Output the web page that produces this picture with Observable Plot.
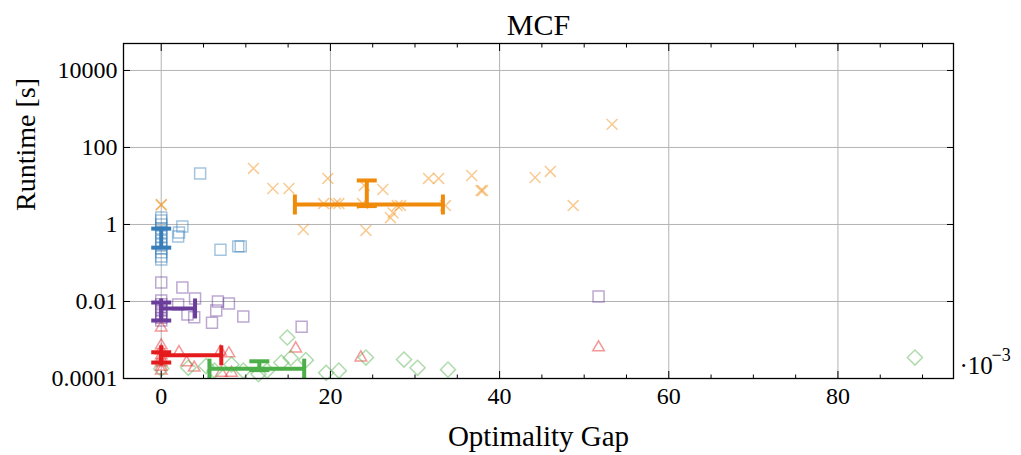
<!DOCTYPE html>
<html><head><meta charset="utf-8">
<script src="https://cdn.jsdelivr.net/npm/d3@7"></script>
<script src="https://cdn.jsdelivr.net/npm/@observablehq/plot@0.6"></script>
<style>body{margin:0;background:#fff} #chart svg{font-family:"Liberation Serif",serif;}</style>
</head><body><div id="chart"></div>
<script>
// ---- ticks ----
const xTicks = [0, 20, 40, 60, 80];
const xMinorTicks = [5, 10, 15, 25, 30, 35, 45, 50, 55, 65, 70, 75, 85, 90];
const yTicks = [1e-4, 1e-2, 1, 1e2, 1e4];
const yTickLabels = ["0.0001", "0.01", "1", "100", "10000"];

// ---- series (x = optimality gap ·10^-3, y = runtime in s) ----
const seriesNames = ["blue", "purple", "red", "green", "orange"];
const seriesColors = ["#377eb8", "#6a3d9a", "#e41a1c", "#4daf4a", "#f08a0b"];
const seriesSymbols = ["square", "square", "triangle", "diamond2", "times"];

const blueX = [0,0,0,0,0,0,0,0,0,0,0,0, 4.6,2.1,2.0,2.5,7.0,9.1,9.4];
const blueY = [1.52,1.27,1.0,0.79,0.62,0.49,0.38,0.30,0.24,0.19,0.148,0.123, 21,0.62,0.49,0.89,0.22,0.27,0.27];

const purpleX = [0,0,0,0,0,0,0,0, 2.5,2.0,4.0,3.1,3.9,6.7,6.5,6.0,8.0,9.7,16.6,51.7];
const purpleY = [0.031,0.0106,0.0085,0.0070,0.0058,0.0049,0.0038,0.0032, 0.023,0.0084,0.012,0.0046,0.0039,0.010,0.0058,0.0028,0.0089,0.0041,0.0022,0.0135];

const redX = [0,0,0,0,0,0,0,0, 2.1,7.0,8.0,3.0,3.9,7.1,8.3,15.9,23.6,51.7];
const redY = [0.0021,0.00072,0.00053,0.0004,0.00033,0.00026,0.0002,0.00016, 0.00048,0.00050,0.00045,0.00026,0.00019,0.00014,0.00014,0.00060,0.00035,0.00064];

const greenX = [0,3.2,5.3,6.3,8.3,9.7,11.5,12.5,14.2,14.9,15.3,17.1,19.5,21.0,24.2,28.7,30.3,33.9,89.1];
const greenY = [0.00018,0.00019,0.00021,0.00016,0.00023,0.00016,0.00013,0.00016,0.00026,0.00116,0.00034,0.0003,0.00014,0.00016,0.00035,0.00031,0.00019,0.00017,0.00035];

const orangeX = [0,0,10.9,13.2,15.1,19.7,16.8,19.2,20.6,21.0,23.8,24.0,24.2,26.2,27.1,27.4,27.9,28.3,31.6,32.8,33.6,36.7,37.8,38.0,44.2,46.0,48.7,53.3];
const orangeY = [3.3,3.2,28.5,8.6,8.6,15.7,0.74,3.5,3.5,3.5,3.5,10.3,0.7,8.1,1.5,2.0,3.1,3.1,15.7,15.7,3.1,18.7,7.6,7.6,16.6,23.8,3.1,398];

// ---- error bars (per series) ----
const ebCx  = [0, 0, 0, 11.6, 24.3];
const ebCy  = [0.46, 0.0066, 0.0004, 0.00018, 3.3];
const ebXLo = [0, 0, 0, 5.7, 15.8];
const ebXHi = [0, 4.0, 7.1, 16.9, 33.3];
const ebYLo = [0.25, 0.0032, 0.00026, 0.000165, 3.0];
const ebYHi = [0.78, 0.0094, 0.00048, 0.00028, 13.9];
const ebHy  = [0.46, 0.0066, 0.0004, 0.00018, 3.3];

const allX = [blueX, purpleX, redX, greenX, orangeX];
const allY = [blueY, purpleY, redY, greenY, orangeY];

const points = [];
allX.forEach((xs, s) => xs.forEach((x, i) => points.push({s, x, y: allY[s][i]})));

const eb = seriesNames.map((n, s) => ({s, cx: ebCx[s], cy: ebCy[s], hy: ebHy[s], xlo: ebXLo[s], xhi: ebXHi[s], ylo: ebYLo[s], yhi: ebYHi[s]}));
const hBars = eb.filter(d => d.xhi > d.xlo);
const hCaps = hBars.flatMap(d => [{s: d.s, x: d.xlo, y: d.hy}, {s: d.s, x: d.xhi, y: d.hy}]);
const vCaps = eb.flatMap(d => [{s: d.s, x: d.cx, y: d.ylo}, {s: d.s, x: d.cx, y: d.yhi}]);

const capH = {draw(ctx) { ctx.moveTo(-10, 0); ctx.lineTo(10, 0); }};
const capV = {draw(ctx) { ctx.moveTo(0, -10); ctx.lineTo(0, 10); }};
const col = d => seriesColors[d.s];

const dotMarks = seriesNames.map((n, s) => Plot.dot(points.filter(p => p.s === s), {
  x: "x", y: "y", symbol: seriesSymbols[s],
  r: [6.2, 6.2, 4.3, 6.8, 5.0][s],
  fill: "none", stroke: seriesColors[s], strokeOpacity: 0.45, strokeWidth: 1.5
}));

const plot = Plot.plot({
  width: 1021, height: 455,
  marginLeft: 123, marginRight: 68, marginTop: 43, marginBottom: 77,
  x: {domain: [-4.46, 93.66]},
  y: {type: "log", domain: [1e-4, Math.pow(10, 4.70)]},
  style: {fontFamily: '"Liberation Serif", serif', fontSize: "24px", color: "#000", background: "#fff"},
  marks: [
    Plot.gridX(xTicks, {stroke: "#b3b3b3", strokeOpacity: 1, strokeWidth: 1}),
    Plot.gridY(yTicks, {stroke: "#b3b3b3", strokeOpacity: 1, strokeWidth: 1}),
    ...dotMarks,
    Plot.link(hBars, {x1: "xlo", x2: "xhi", y1: "hy", y2: "hy", stroke: col, strokeWidth: 4}),
    Plot.link(eb, {x1: "cx", x2: "cx", y1: "ylo", y2: "yhi", stroke: col, strokeWidth: 4}),
    Plot.dot(hCaps, {x: "x", y: "y", symbol: capV, fill: "none", stroke: col, strokeWidth: 4}),
    Plot.dot(vCaps, {x: "x", y: "y", symbol: capH, fill: "none", stroke: col, strokeWidth: 4}),
    Plot.frame({stroke: "#000", strokeWidth: 1.3}),
    // inward ticks
    Plot.axisX(xTicks, {anchor: "bottom", tickSize: -7, fill: "none", label: null}),
    Plot.axisX(xTicks, {anchor: "top", tickSize: -7, fill: "none", label: null}),
    Plot.axisX(xMinorTicks, {anchor: "bottom", tickSize: -3.5, fill: "none", label: null}),
    Plot.axisX(xMinorTicks, {anchor: "top", tickSize: -3.5, fill: "none", label: null}),
    Plot.axisY(yTicks, {anchor: "left", tickSize: -7, fill: "none", label: null}),
    Plot.axisY(yTicks, {anchor: "right", tickSize: -7, fill: "none", label: null}),
    // tick labels
    Plot.axisX(xTicks, {anchor: "bottom", tickSize: 0, tickPadding: 8, tickFormat: d => String(d), label: null, fontSize: 24}),
    Plot.axisY(yTicks, {anchor: "left", tickSize: 0, tickPadding: 6, tickFormat: d => yTickLabels[yTicks.indexOf(d)], label: null, fontSize: 24}),
    // titles
    Plot.text(["MCF"], {frameAnchor: "top", lineAnchor: "middle", dy: -18, fontSize: 30}),
    Plot.text(["Optimality Gap"], {frameAnchor: "bottom", lineAnchor: "middle", dy: 58, fontSize: 29}),
    Plot.text(["Runtime [s]"], {frameAnchor: "left", lineAnchor: "middle", dx: -97, rotate: -90, fontSize: 28}),
    Plot.text(["·10"], {frameAnchor: "bottom-right", lineAnchor: "middle", textAnchor: "start", dx: 6, dy: -13, fontSize: 25}),
    Plot.text(["−3"], {frameAnchor: "bottom-right", lineAnchor: "middle", textAnchor: "start", dx: 38, dy: -23, fontSize: 18})
  ]
});
document.getElementById("chart").appendChild(plot);
</script>
</body></html>
